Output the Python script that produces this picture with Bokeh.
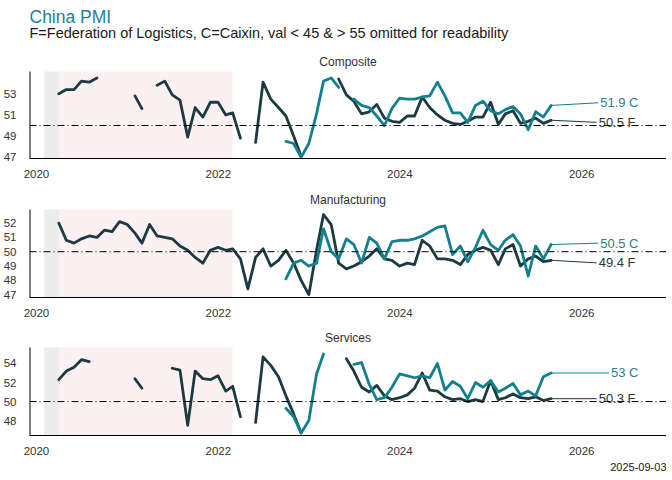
import numpy as np
import pandas as pd
from bokeh.plotting import figure
from bokeh.models import Range1d, FixedTicker, DatetimeTickFormatter, Span, BoxAnnotation, Title
from bokeh.core.properties import value
from bokeh.layouts import column
from bokeh.embed import file_html
from bokeh.resources import INLINE

# ---------------- data ----------------
f_first_month = "2020-01-01"   # Federation of Logistics (NBS/CFLP) series start
c_first_month = "2022-09-01"   # Caixin series start

f_composite = [53.0, 28.9, 53.0, 53.4, 53.4, 54.2, 54.1, 54.5, 55.1, 55.3, 55.7, 55.1,
               52.8, 51.6, 55.3, 53.8, 54.2, 52.9, 52.4, 48.9, 51.7, 50.8, 52.2, 52.2,
               51.0, 51.2, 48.8, 42.7, 48.4, 54.1, 52.5, 51.7, 50.9, 49.0, 47.1, 42.6,
               52.9, 56.4, 57.0, 54.4, 52.9, 52.3, 51.1, 51.3, 52.0, 50.7, 50.4, 50.3,
               50.9, 50.9, 52.7, 51.7, 51.0, 50.5, 50.2, 50.1, 50.4, 50.8, 50.8, 52.2,
               50.1, 51.1, 51.4, 50.2, 50.4, 50.7, 50.2, 50.5]
c_composite = [48.5, 48.3, 47.0, 48.3,
               51.1, 54.2, 54.5, 53.6, 55.6, 52.5, 51.9, 51.7, 50.9, 50.0, 51.6, 52.6,
               52.5, 52.5, 52.7, 52.8, 54.1, 52.8, 51.2, 51.2, 50.3, 51.9, 52.3, 51.4,
               51.1, 51.5, 51.8, 51.1, 49.6, 51.3, 50.8, 51.9]

f_manufacturing = [50.0, 35.7, 52.0, 50.8, 50.6, 50.9, 51.1, 51.0, 51.5, 51.4, 52.1, 51.9,
                   51.3, 50.6, 51.9, 51.1, 51.0, 50.9, 50.4, 50.1, 49.6, 49.2, 50.1, 50.3,
                   50.1, 50.2, 49.5, 47.4, 49.6, 50.2, 49.0, 49.4, 50.1, 49.2, 48.0, 47.0,
                   50.1, 52.6, 51.9, 49.2, 48.8, 49.0, 49.3, 49.7, 50.2, 49.5, 49.4, 49.0,
                   49.2, 49.1, 50.8, 50.4, 49.5, 49.5, 49.4, 49.1, 49.8, 50.1, 50.3, 50.1,
                   49.1, 50.2, 50.5, 49.0, 49.5, 49.7, 49.3, 49.4]
c_manufacturing = [48.1, 49.2, 49.4, 49.0,
                   49.2, 51.6, 50.0, 49.5, 50.9, 50.5, 49.2, 51.0, 50.6, 49.5, 50.7, 50.8,
                   50.8, 50.9, 51.1, 51.4, 51.7, 51.8, 49.8, 50.4, 49.3, 50.3, 51.5, 50.5,
                   50.1, 50.8, 51.2, 50.4, 48.3, 50.4, 49.5, 50.5]

f_services = [54.1, 29.6, 52.3, 53.2, 53.6, 54.4, 54.2, 55.2, 55.9, 56.2, 56.4, 55.7,
              52.4, 51.4, 56.3, 54.9, 55.2, 53.5, 53.3, 47.5, 53.2, 52.4, 52.3, 52.7,
              51.1, 51.6, 48.4, 41.9, 47.8, 54.7, 53.8, 52.6, 50.6, 48.7, 46.7, 41.6,
              54.4, 56.3, 58.2, 56.4, 54.5, 53.2, 51.5, 51.0, 51.7, 50.6, 50.2, 50.4,
              50.7, 51.4, 53.0, 51.2, 51.1, 50.5, 50.2, 50.3, 50.0, 50.2, 50.0, 52.2,
              50.2, 50.4, 50.8, 50.4, 50.3, 50.5, 50.1, 50.3]
c_services = [49.3, 48.4, 46.7, 48.0,
              52.9, 55.0, 57.8, 56.4, 57.1, 53.9, 54.1, 51.8, 50.2, 50.4, 51.5, 52.9,
              52.7, 52.5, 52.7, 52.5, 54.0, 51.2, 52.1, 51.6, 50.3, 52.0, 51.5, 52.2,
              51.0, 51.4, 51.9, 50.7, 51.1, 50.6, 52.6, 53.0]

panel_names = ["Composite", "Manufacturing", "Services"]
composite_ticks = [47, 49, 51, 53]
manufacturing_ticks = [47, 48, 49, 50, 51, 52]
services_ticks = [48, 50, 52, 54]
x_tick_years = [2020, 2022, 2024, 2026]
grey_period = ["2020-02-01", "2020-04-01"]
pink_period = ["2020-04-01", "2022-02-28"]
threshold = 50
omit_below, omit_above = 45, 55
title_text = "China PMI"
subtitle_text = "F=Federation of Logistics, C=Caixin, val < 45 & > 55 omitted for readability"
footer_text = "2025-09-03"

# ---------------- styling ----------------
FONT = "Liberation Sans"
TEAL = "#12808e"
DARK = "#1b3a41"
FRAME_W = 637
BORDER_L = 19
X0 = pd.Timestamp("2019-12-04")
X1 = pd.Timestamp("2026-12-08")


def month_ends(first, n):
    return pd.date_range(first, periods=n, freq="MS") + pd.offsets.MonthEnd(0)


def clean(vals):
    a = np.array(vals, dtype=float)
    a[(a < omit_below) | (a > omit_above)] = np.nan
    return a


def px_to_time(px):
    return X0 + (X1 - X0) * (px / FRAME_W)


CW = {c: 0.556 for c in "0123456789"}
CW.update({".": 0.278, " ": 0.278, "C": 0.722, "F": 0.611})


def text_w(s, size):
    return sum(CW.get(ch, 0.55) for ch in s) * size


def make_panel(name, f_vals, c_vals, yr, yticks, c_dy, f_dy, head_px, data_px, border_bottom,
               name_base_px):
    """head_px: space (px) above the data area kept inside the frame for titles."""
    y0, y1 = yr
    k = data_px / (y1 - y0)                 # px per unit
    top = y1 + head_px / k                  # frame top in data units

    def sy(px_above_data_top):              # px above the data area -> data units
        return y1 + px_above_data_top / k

    p = figure(frame_width=FRAME_W, frame_height=int(round(head_px + data_px)),
               x_axis_type="datetime", x_range=Range1d(X0, X1), y_range=Range1d(y0, top),
               output_backend="svg", toolbar_location=None,
               min_border_left=BORDER_L, min_border_right=0,
               min_border_top=0, min_border_bottom=border_bottom,
               background_fill_color="white", border_fill_color="white")
    p.outline_line_color = None
    p.grid.visible = False

    p.add_layout(BoxAnnotation(left=pd.Timestamp(grey_period[0]), right=pd.Timestamp(grey_period[1]),
                               bottom=y0, top=y1, fill_color="#ececec", fill_alpha=1,
                               line_color=None, level="underlay"))
    p.add_layout(BoxAnnotation(left=pd.Timestamp(pink_period[0]), right=pd.Timestamp(pink_period[1]),
                               bottom=y0, top=y1, fill_color="#fdf0f2", fill_alpha=1,
                               line_color=None, level="underlay"))
    p.add_layout(Span(location=threshold, dimension="width", line_color="black",
                      line_width=1, line_dash="7 3 1 3"))
    # left axis line only over the data area
    p.segment(x0=[X0], y0=[y0], x1=[X0], y1=[y1], line_color="black", line_width=2)

    fd = month_ends(f_first_month, len(f_vals))
    cd = month_ends(c_first_month, len(c_vals))
    p.line(fd, clean(f_vals), line_color=DARK, line_width=2.8, line_join="round", line_cap="round")
    p.line(cd, clean(c_vals), line_color=TEAL, line_width=2.8, line_join="round", line_cap="round")

    # end labels with connector lines
    for dates, vals, tag, color, tcolor, dy, right_px in (
            (cd, c_vals, "C", TEAL, "#2a7f90", c_dy, 609),
            (fd, f_vals, "F", DARK, "#333333", f_dy, 606)):
        last = vals[-1]
        lab = f"{last:g} {tag}"
        ly = last + dy
        w = text_w(lab, 13)
        p.segment(x0=[dates[-1]], y0=[last], x1=[px_to_time(right_px - w - 2)], y1=[ly],
                  line_color=color, line_width=1)
        p.text(x=[px_to_time(right_px)], y=[ly], text=[lab], text_align="right",
               text_baseline="middle", text_font_size="13px", text_color=tcolor,
               text_font=value(FONT))

    # panel title
    p.text(x=[px_to_time(FRAME_W / 2)], y=[sy(name_base_px)], text=[name], text_align="center",
           text_baseline="alphabetic", text_font_size="12px", text_color="#333333",
           text_font=value(FONT))

    xa = p.xaxis[0]
    xa.ticker = FixedTicker(ticks=[pd.Timestamp(f"{y}-01-01").value / 1e6 for y in x_tick_years])
    xa.formatter = DatetimeTickFormatter(years="%Y", months="%Y", days="%Y", hours="%Y")
    ya = p.yaxis[0]
    ya.ticker = FixedTicker(ticks=yticks)
    for ax in (xa, ya):
        ax.major_tick_line_color = None
        ax.minor_tick_line_color = None
        ax.major_label_text_font = FONT
        ax.major_label_text_font_size = "11.5px"
        ax.major_label_text_color = "#333333"
    xa.axis_line_color = "black"
    xa.axis_line_width = 1
    ya.axis_line_color = None
    xa.major_label_standoff = 5
    ya.major_label_standoff = 7
    return p, sy


p1, sy1 = make_panel(panel_names[0], f_composite, c_composite, (46.88, 55.11), composite_ticks,
                     0.25, -0.2, 71, 87, 28, 9.7)
p1.text(x=[X0], y=[sy1(38.3)], text=[subtitle_text], text_align="left", text_baseline="alphabetic",
        text_font_size="14.5px", text_color="#1a1a1a", text_font=value(FONT))
p1.text(x=[X0], y=[sy1(55.0)], text=[title_text], text_align="left", text_baseline="alphabetic",
        text_font_size="17.5px", text_color="#1f8197", text_font=value(FONT))

p2, _ = make_panel(panel_names[1], f_manufacturing, c_manufacturing, (46.8, 52.95),
                   manufacturing_ticks, 0.1, -0.18, 23, 88, 28, 9.7)
p3, _ = make_panel(panel_names[2], f_services, c_services, (46.43, 55.68), services_ticks,
                   0.0, 0.0, 22, 88, 37, 9.7)
p3.add_layout(Title(text=footer_text, align="right", text_font=FONT, text_font_size="11px",
                    text_font_style="normal", text_color="#1a1a1a", standoff=6,
                    vertical_align="bottom"), "below")

layout = column(p1, p2, p3, spacing=0)
open("out.html", "w").write(file_html(layout, INLINE))
